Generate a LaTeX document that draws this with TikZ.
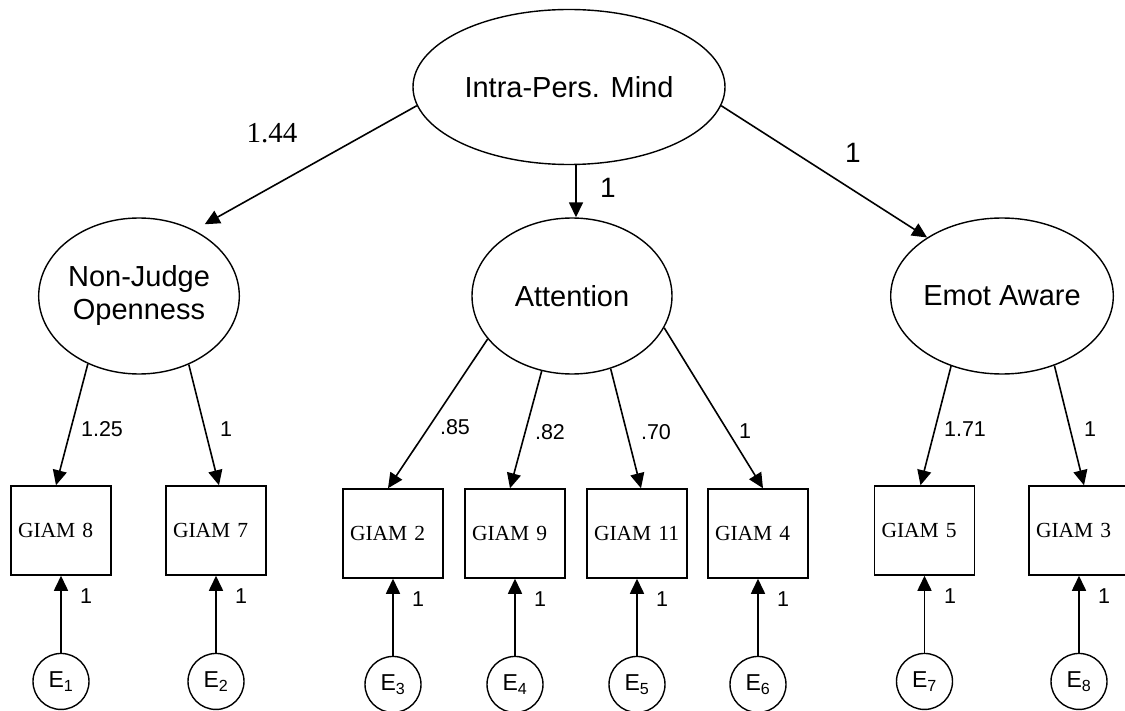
\documentclass[tikz,border=0pt]{standalone}
\usepackage{fontspec}
\setmainfont{Liberation Sans}
\newfontfamily\timesfont{Liberation Serif}
\usepackage{tikz}
\usetikzlibrary{positioning,shapes,arrows.meta}
\tikzstyle{lat}=[%
      ellipse, draw=black, line width=1.4pt, inner sep=0pt,
      minimum width=200pt, minimum height=156pt, align=center,
      font=\fontsize{29}{33}\selectfont
]
\tikzstyle{obs}=[%
      rectangle, draw=black, line width=1.5pt, inner xsep=7pt, inner ysep=0pt,
      text width=86pt, align=left, minimum height=89pt,
      font=\timesfont\fontsize{21.5}{24}\selectfont
]
\tikzstyle{err}=[%
      circle, draw=black, line width=1.4pt, inner sep=0pt, minimum size=56pt,
      font=\fontsize{23}{24}\selectfont
]
\tikzstyle{wt}=[inner sep=0pt, font=\fontsize{21.5}{24}\selectfont]
\tikzstyle{wtbig}=[inner sep=0pt, font=\fontsize{28}{30}\selectfont]

\begin{document}
\begin{tikzpicture}[x=1pt, y=-1pt, line width=1.6pt,
    -{Triangle[length=15pt,width=14pt]}
  ]
    \useasboundingbox (0,0) rectangle (1125,711);

    \node[lat, minimum width=312pt, minimum height=155pt] (top) at (569,87) {Intra-Pers. Mind};
    \node[lat] (nj)  at (139,296)  {Non-Judge\\Openness};
    \node[lat] (att) at (572,296)  {Attention};
    \node[lat] (ea)  at (1002,296) {Emot Aware};

    \node[obs] (g8)  at (61,530.5)   {GIAM 8};
    \node[obs] (g7)  at (216,530.5)  {GIAM 7};
    \node[obs] (g2)  at (393,533.5)  {GIAM 2};
    \node[obs] (g9)  at (515,533.5)  {GIAM 9};
    \node[obs] (g11) at (637,533.5)  {GIAM 11};
    \node[obs] (g4)  at (758,533.5)  {GIAM 4};
    \node[obs] (g5)  at (924.5,530.5) {GIAM 5};
    \node[obs] (g3)  at (1079,530.5) {GIAM 3};

    \node[err, below=77pt of g8]  (e1) {E\textsubscript{1}};
    \node[err, below=77pt of g7]  (e2) {E\textsubscript{2}};
    \node[err, below=77pt of g2]  (e3) {E\textsubscript{3}};
    \node[err, below=77pt of g9]  (e4) {E\textsubscript{4}};
    \node[err, below=77pt of g11] (e5) {E\textsubscript{5}};
    \node[err, below=77pt of g4]  (e6) {E\textsubscript{6}};
    \node[err, below=77pt of g5]  (e7) {E\textsubscript{7}};
    \node[err, below=77pt of g3]  (e8) {E\textsubscript{8}};

    \path (top.187.5) edge[shorten >=12pt] (nj.50)
          ([xshift=7pt]top.south) edge ([xshift=4pt]att.north)
          (top.353.3) edge (ea.142)
          (nj.233.5) edge ([xshift=-5pt]g8.north)
          (nj.306) edge ([xshift=3pt]g7.north)
          (att.207.4) edge ([xshift=-5pt]g2.north)
          (att.248) edge ([xshift=-5pt]g9.north)
          (att.298) edge ([xshift=4pt]g11.north)
          (att.341) edge ([xshift=5pt]g4.north)
          (ea.234) edge ([xshift=-4pt]g5.north)
          (ea.307) edge ([xshift=5pt]g3.north)
          (e1) edge (g8)
          (e2) edge (g7)
          (e3) edge (g2)
          (e4) edge (g9)
          (e5) edge (g11)
          (e6) edge (g4)
          (e7) edge (g5)
          (e8) edge (g3)
    ;

    \node[inner sep=0pt, font=\timesfont\fontsize{29}{30}\selectfont] (w1) at (272,133) {1.44};
    \node[wtbig] (w2) at (608,188) {1};
    \node[wtbig] (w3) at (853,153) {1};
    \node[wt] (w4)  at (102,429) {1.25};
    \node[wt] (w5)  at (226,429) {1};
    \node[wt] (w6)  at (455,427) {.85};
    \node[wt] (w7)  at (550,432) {.82};
    \node[wt] (w8)  at (656,432) {.70};
    \node[wt] (w9)  at (745,431) {1};
    \node[wt] (w10) at (965,429) {1.71};
    \node[wt] (w11) at (1090,429) {1};

    \node[wt] (v1) at (86,596)   {1};
    \node[wt] (v2) at (241,596)  {1};
    \node[wt] (v3) at (418,599)  {1};
    \node[wt] (v4) at (540,599)  {1};
    \node[wt] (v5) at (662,599)  {1};
    \node[wt] (v6) at (783,599)  {1};
    \node[wt] (v7) at (950,596)  {1};
    \node[wt] (v8) at (1104,596) {1};

  \end{tikzpicture}
\end{document}
